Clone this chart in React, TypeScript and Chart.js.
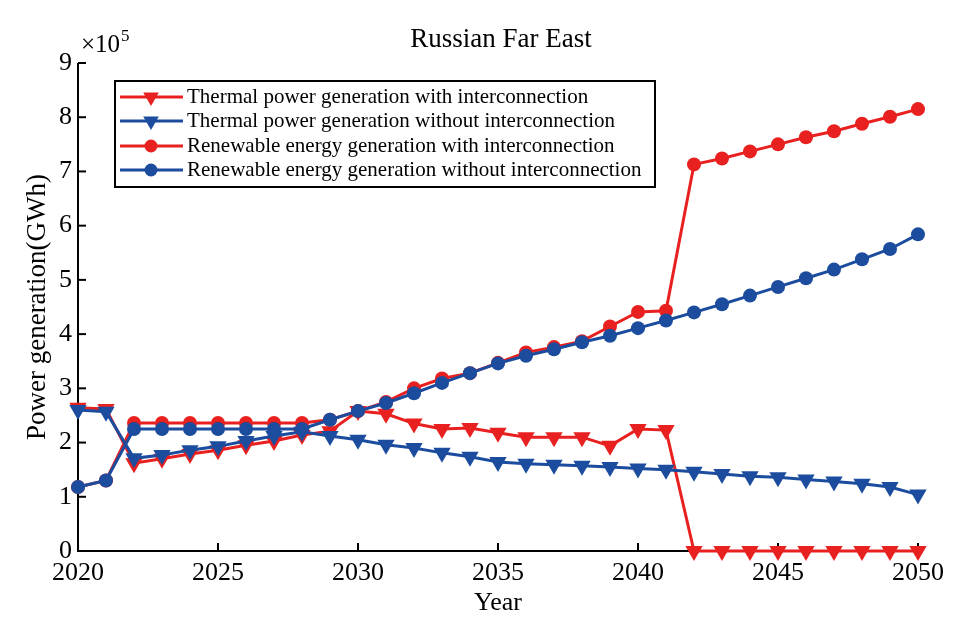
import React, { useEffect, useRef } from "react";
import { Chart, registerables } from "chart.js";

Chart.register(...registerables);

const years = [2020, 2021, 2022, 2023, 2024, 2025, 2026, 2027, 2028, 2029, 2030, 2031, 2032, 2033, 2034, 2035, 2036, 2037, 2038, 2039, 2040, 2041, 2042, 2043, 2044, 2045, 2046, 2047, 2048, 2049, 2050];
const thermalWith = [2.64, 2.62, 1.62, 1.70, 1.79, 1.86, 1.95, 2.03, 2.14, 2.21, 2.58, 2.53, 2.35, 2.25, 2.27, 2.18, 2.10, 2.10, 2.10, 1.94, 2.25, 2.23, 0, 0, 0, 0, 0, 0, 0, 0, 0];
const thermalWithout = [2.60, 2.57, 1.71, 1.77, 1.86, 1.93, 2.03, 2.12, 2.20, 2.12, 2.05, 1.96, 1.90, 1.81, 1.74, 1.64, 1.61, 1.59, 1.57, 1.55, 1.52, 1.50, 1.46, 1.42, 1.38, 1.36, 1.32, 1.28, 1.24, 1.18, 1.04];
const renewWith = [1.18, 1.30, 2.36, 2.36, 2.36, 2.36, 2.36, 2.36, 2.36, 2.42, 2.58, 2.75, 3.00, 3.18, 3.28, 3.47, 3.66, 3.76, 3.87, 4.14, 4.41, 4.43, 7.13, 7.24, 7.37, 7.50, 7.63, 7.74, 7.88, 8.01, 8.15];
const renewWithout = [1.18, 1.30, 2.25, 2.25, 2.25, 2.25, 2.25, 2.25, 2.25, 2.42, 2.58, 2.73, 2.91, 3.10, 3.28, 3.46, 3.60, 3.72, 3.85, 3.97, 4.11, 4.25, 4.40, 4.55, 4.71, 4.87, 5.03, 5.19, 5.38, 5.57, 5.84];
const seriesNames = [
  "Thermal power generation with interconnection",
  "Thermal power generation without interconnection",
  "Renewable energy generation with interconnection",
  "Renewable energy generation without interconnection",
];
const xTicks = [2020, 2025, 2030, 2035, 2040, 2045, 2050];
const yTicks = [0, 1, 2, 3, 4, 5, 6, 7, 8, 9];
const titleText = "Russian Far East";
const xTitle = "Year";
const yTitle = "Power generation(GWh)";

const RED = "#E8201F";
const BLUE = "#1C4C9E";
const FONT = "'Liberation Serif', 'DejaVu Serif', serif";

const toPts = (arr: number[]) => arr.map((v, i) => ({ x: years[i], y: v }));

const decorPlugin = {
  id: "decor",
  beforeDatasetsDraw(chart: any) {
    const { ctx, chartArea, scales } = chart;
    const { left, right, top, bottom } = chartArea;
    ctx.save();
    ctx.strokeStyle = "#000";
    ctx.lineWidth = 2;
    ctx.beginPath();
    ctx.moveTo(left, top);
    ctx.lineTo(left, bottom);
    ctx.lineTo(right, bottom);
    ctx.stroke();
    yTicks.forEach((v) => {
      const y = scales.y.getPixelForValue(v);
      ctx.beginPath();
      ctx.moveTo(left, y);
      ctx.lineTo(left + 8, y);
      ctx.stroke();
    });
    xTicks.forEach((v) => {
      const x = scales.x.getPixelForValue(v);
      ctx.beginPath();
      ctx.moveTo(x, bottom);
      ctx.lineTo(x, bottom - 8);
      ctx.stroke();
    });
    ctx.restore();
  },
  afterDraw(chart: any) {
    const { ctx, chartArea } = chart;
    const { left, right, top, bottom } = chartArea;
    ctx.save();
    ctx.fillStyle = "#000";
    ctx.textBaseline = "alphabetic";
    // title
    ctx.font = `27px ${FONT}`;
    ctx.textAlign = "center";
    ctx.fillText(titleText, 501, 47);
    // x title
    ctx.font = `26px ${FONT}`;
    ctx.fillText(xTitle, (left + right) / 2, 610);
    // y title
    ctx.save();
    ctx.translate(45, (top + bottom) / 2);
    ctx.rotate(-Math.PI / 2);
    ctx.textAlign = "center";
    ctx.font = `27px ${FONT}`;
    ctx.fillText(yTitle, 0, 0);
    ctx.restore();
    // exponent
    ctx.textAlign = "left";
    ctx.font = `25px ${FONT}`;
    ctx.fillText("\u00d710", 81, 52);
    const w = ctx.measureText("\u00d710").width;
    ctx.font = `17px ${FONT}`;
    ctx.fillText("5", 81 + w + 1, 41);

    // legend
    const bx = 115, by = 81, bw = 540, bh = 106;
    ctx.fillStyle = "#fff";
    ctx.fillRect(bx, by, bw, bh);
    ctx.strokeStyle = "#000";
    ctx.lineWidth = 2;
    ctx.strokeRect(bx, by, bw, bh);
    const rows = [97, 121, 146, 170];
    const cols = [RED, BLUE, RED, BLUE];
    rows.forEach((ry, i) => {
      ctx.strokeStyle = cols[i];
      ctx.fillStyle = cols[i];
      ctx.lineWidth = 3;
      ctx.beginPath();
      ctx.moveTo(120, ry);
      ctx.lineTo(183, ry);
      ctx.stroke();
      if (i < 2) {
        const r = 9;
        ctx.beginPath();
        ctx.moveTo(151, ry + r);
        ctx.lineTo(151 - r * 0.866, ry - r * 0.5);
        ctx.lineTo(151 + r * 0.866, ry - r * 0.5);
        ctx.closePath();
        ctx.fill();
      } else {
        ctx.beginPath();
        ctx.arc(151, ry, 6.5, 0, Math.PI * 2);
        ctx.fill();
      }
      ctx.fillStyle = "#000";
      ctx.font = `21px ${FONT}`;
      ctx.textAlign = "left";
      ctx.textBaseline = "middle";
      ctx.fillText(seriesNames[i], 187, ry);
    });
    ctx.restore();
  },
};

export default function App() {
  const ref = useRef<HTMLCanvasElement>(null);
  useEffect(() => {
    document.body.style.margin = "0";
    const canvas = ref.current!;
    const triDs = (label: string, data: number[], color: string, order: number) => ({
      label,
      data: toPts(data),
      borderColor: color,
      backgroundColor: color,
      borderWidth: 3,
      pointStyle: "triangle",
      pointRotation: 180,
      pointRadius: 10,
      pointBorderWidth: 0,
      pointBackgroundColor: color,
      tension: 0,
      clip: false as any,
      order,
    });
    const cirDs = (label: string, data: number[], color: string, order: number) => ({
      label,
      data: toPts(data),
      borderColor: color,
      backgroundColor: color,
      borderWidth: 3,
      pointStyle: "circle",
      pointRadius: 7,
      pointBorderWidth: 0,
      pointBackgroundColor: color,
      tension: 0,
      clip: false as any,
      order,
    });
    const chart = new Chart(canvas, {
      type: "line",
      data: {
        datasets: [
          triDs(seriesNames[0], thermalWith, RED, 4),
          triDs(seriesNames[1], thermalWithout, BLUE, 2),
          cirDs(seriesNames[2], renewWith, RED, 3),
          cirDs(seriesNames[3], renewWithout, BLUE, 1),
        ] as any,
      },
      options: {
        animation: false,
        responsive: false,
        maintainAspectRatio: false,
        devicePixelRatio: 1,
        layout: { padding: { left: 0, top: 63, right: 45, bottom: 0 } },
        plugins: {
          legend: { display: false },
          title: { display: false },
          tooltip: { enabled: false },
        },
        scales: {
          x: {
            type: "linear",
            min: 2020,
            max: 2050,
            afterFit: (s: any) => { s.height = 82; },
            afterBuildTicks: (s: any) => { s.ticks = xTicks.map((v) => ({ value: v })); },
            grid: { display: false, drawTicks: false },
            border: { display: false },
            ticks: {
              padding: 7,
              maxRotation: 0,
              color: "#000",
              font: { family: FONT, size: 26 },
              callback: (v: any) => String(v),
            },
          },
          y: {
            type: "linear",
            min: 0,
            max: 9,
            afterFit: (s: any) => { s.width = 78; },
            afterBuildTicks: (s: any) => { s.ticks = yTicks.map((v) => ({ value: v })); },
            grid: { display: false, drawTicks: false },
            border: { display: false },
            ticks: {
              padding: 6,
              color: "#000",
              font: { family: FONT, size: 26 },
              callback: (v: any) => String(v),
            },
          },
        },
      } as any,
      plugins: [decorPlugin],
    });
    return () => chart.destroy();
  }, []);
  return (
    <div style={{ width: 963, height: 633, background: "#fff" }}>
      <canvas ref={ref} width={963} height={633} style={{ display: "block", width: 963, height: 633 }} />
    </div>
  );
}
